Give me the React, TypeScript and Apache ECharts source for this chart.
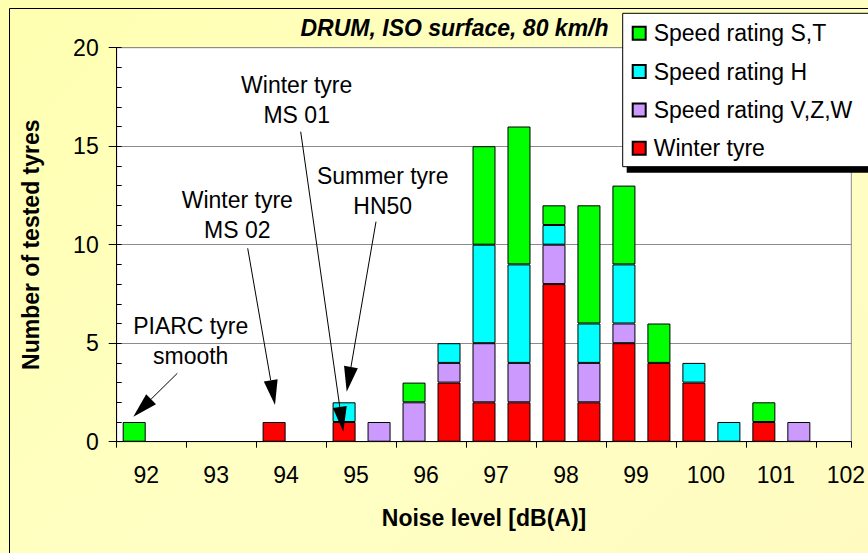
import { useEffect, useRef } from 'react';
import * as echarts from 'echarts';

// Bin centres of the noise-level histogram, dB(A) (0.5 dB bins)
const categories = [
  '91.75', '92.25', '92.75', '93.25', '93.75', '94.25', '94.75', '95.25', '95.75', '96.25', '96.75',
  '97.25', '97.75', '98.25', '98.75', '99.25', '99.75', '100.25', '100.75', '101.25', '101.75',
];

// Number of tested tyres per bin, per group
const winterTyre = [0, 0, 0, 0, 1, 0, 1, 0, 0, 3, 2, 2, 8, 2, 5, 4, 3, 0, 1, 0, 0];
const speedVZW = [0, 0, 0, 0, 0, 0, 0, 1, 2, 1, 3, 2, 2, 2, 1, 0, 0, 0, 0, 1, 0];
const speedH = [0, 0, 0, 0, 0, 0, 1, 0, 0, 1, 5, 5, 1, 2, 3, 0, 1, 1, 0, 0, 0];
const speedST = [1, 0, 0, 0, 0, 0, 0, 0, 1, 0, 5, 7, 1, 6, 4, 2, 0, 0, 1, 0, 0];

const seriesNames = ['Winter tyre', 'Speed rating V,Z,W', 'Speed rating H', 'Speed rating S,T'];
const seriesColors = ['#FF0000', '#CC99FF', '#00FFFF', '#00FF00'];
const seriesValues = [winterTyre, speedVZW, speedH, speedST];
const legendOrder = ['Speed rating S,T', 'Speed rating H', 'Speed rating V,Z,W', 'Winter tyre'];

const FONT = '"Liberation Sans", Arial, Helvetica, sans-serif';
const FS = 23;

function arrow(x1: number, y1: number, x2: number, y2: number) {
  const dx = x2 - x1;
  const dy = y2 - y1;
  const len = Math.sqrt(dx * dx + dy * dy);
  const ux = dx / len;
  const uy = dy / len;
  const headLen = 25;
  const headHalf = 7;
  const bx = x2 - ux * headLen;
  const by = y2 - uy * headLen;
  const nx = -uy;
  const ny = ux;
  return [
    {
      type: 'line',
      z: 30,
      shape: { x1, y1, x2: bx, y2: by },
      style: { stroke: '#000', lineWidth: 1 },
    },
    {
      type: 'polygon',
      z: 30,
      shape: {
        points: [
          [x2, y2],
          [bx + nx * headHalf, by + ny * headHalf],
          [bx - nx * headHalf, by - ny * headHalf],
        ],
      },
      style: { fill: '#000' },
    },
  ];
}

function label(text: string, x: number, y: number) {
  return {
    type: 'text',
    z: 30,
    x,
    y,
    style: {
      text,
      fontSize: FS,
      fontFamily: FONT,
      fill: '#000',
      align: 'center',
      verticalAlign: 'middle',
      lineHeight: 30,
    },
  };
}

export default function App() {
  const ref = useRef<HTMLDivElement>(null);

  useEffect(() => {
    if (!ref.current) return;
    const chart = echarts.init(ref.current, null, { renderer: 'svg' });

    const option: any = {
      animation: false,
      backgroundColor: 'transparent',
      grid: {
        left: 116.7,
        top: 47.7,
        right: 16.3,
        bottom: 111.3,
        show: true,
        backgroundColor: '#ffffff',
        borderColor: '#8c8c8c',
        borderWidth: 1,
      },
      legend: {
        data: legendOrder,
        orient: 'vertical',
        left: 631.7,
        top: 21.3,
        padding: 0,
        itemWidth: 13,
        itemHeight: 13,
        itemGap: 14.3,
        icon: 'rect',
        selectedMode: false,
        z: 10,
        textStyle: {
          fontSize: FS,
          fontFamily: FONT,
          color: '#000',
          lineHeight: 24,
          padding: [0, 0, 0, 3],
        },
      },
      xAxis: [
        {
          type: 'category',
          position: 'bottom',
          data: categories,
          axisLine: { show: true, lineStyle: { color: '#000', width: 1 } },
          axisTick: { show: true, length: 6, lineStyle: { color: '#000' } },
          axisLabel: { show: false },
          splitLine: { show: false },
        },
        {
          type: 'value',
          position: 'bottom',
          min: 91.5,
          max: 102,
          minInterval: 1,
          maxInterval: 1,
          axisLine: { show: false },
          axisTick: { show: false },
          splitLine: { show: false },
          axisLabel: {
            fontSize: FS,
            fontFamily: FONT,
            color: '#000',
            margin: 22,
            padding: [0, 11, 0, 0],
            formatter: (v: number) => (Math.abs(v - Math.round(v)) < 1e-6 ? String(Math.round(v)) : ''),
          },
          name: 'Noise level [dB(A)]',
          nameLocation: 'middle',
          nameGap: 65,
          nameTextStyle: { fontSize: FS, fontWeight: 'bold', fontFamily: FONT, color: '#000' },
        },
      ],
      yAxis: [
        {
          type: 'value',
          position: 'left',
          min: 0,
          max: 20,
          interval: 5,
          axisLine: { show: true, lineStyle: { color: '#000', width: 1 } },
          axisTick: { show: true, length: 8, lineStyle: { color: '#000' } },
          axisLabel: { fontSize: FS, fontFamily: FONT, color: '#000', margin: 18 },
          splitLine: { show: true, lineStyle: { color: '#8c8c8c', width: 1 } },
          name: 'Number of tested tyres',
          nameLocation: 'middle',
          nameGap: 74,
          nameTextStyle: { fontSize: FS, fontWeight: 'bold', fontFamily: FONT, color: '#000' },
        },
        {
          type: 'value',
          position: 'left',
          min: 0,
          max: 20,
          interval: 1,
          axisLine: { show: false },
          axisTick: { show: true, inside: true, length: 5, lineStyle: { color: '#000' } },
          axisLabel: { show: false },
          splitLine: { show: false },
        },
      ],
      series: seriesNames.map((name, i) => ({
        type: 'bar',
        name,
        stack: 'total',
        xAxisIndex: 0,
        yAxisIndex: 0,
        barWidth: 23,
        data: seriesValues[i].map((v) => (v === 0 ? null : v)),
        itemStyle: { color: seriesColors[i], borderColor: '#000', borderWidth: 1 },
        emphasis: { disabled: true },
      })),
      graphic: [
        {
          type: 'rect',
          z: 1,
          shape: { x: 9.5, y: 8.5, width: 900, height: 600 },
          style: { fill: 'none', stroke: '#000', lineWidth: 1 },
        },
        {
          type: 'text',
          z: 20,
          x: 454.5,
          y: 27.5,
          style: {
            text: 'DRUM, ISO surface, 80 km/h',
            fontSize: FS,
            fontWeight: 'bold',
            fontStyle: 'italic',
            fontFamily: FONT,
            fill: '#000',
            align: 'center',
            verticalAlign: 'middle',
          },
        },
        {
          type: 'rect',
          z: 5,
          shape: { x: 626.7, y: 19.3, width: 260, height: 153.4 },
          style: { fill: '#000' },
        },
        {
          type: 'rect',
          z: 6,
          shape: { x: 622.7, y: 13.3, width: 260, height: 153.4 },
          style: { fill: '#fff', stroke: '#000', lineWidth: 1 },
        },
        label('Winter tyre\nMS 01', 296.7, 100),
        label('Summer tyre\nHN50', 382.7, 191),
        label('Winter tyre\nMS 02', 237.3, 215),
        label('PIARC tyre\nsmooth', 190.7, 341.3),
        ...arrow(300.7, 131.7, 343.3, 431.7),
        ...arrow(376, 221.7, 346.7, 391.7),
        ...arrow(247.7, 248.3, 275, 405),
        ...arrow(177.3, 373.3, 133.3, 416.7),
      ],
    };

    chart.setOption(option);
    return () => chart.dispose();
  }, []);

  return (
    <div
      ref={ref}
      style={{
        position: 'fixed',
        left: 0,
        top: 0,
        width: 868,
        height: 553,
        background: 'linear-gradient(135deg, #FFFFB0 0%, #FFFFC4 50%, #FFFBC0 100%)',
      }}
    />
  );
}
